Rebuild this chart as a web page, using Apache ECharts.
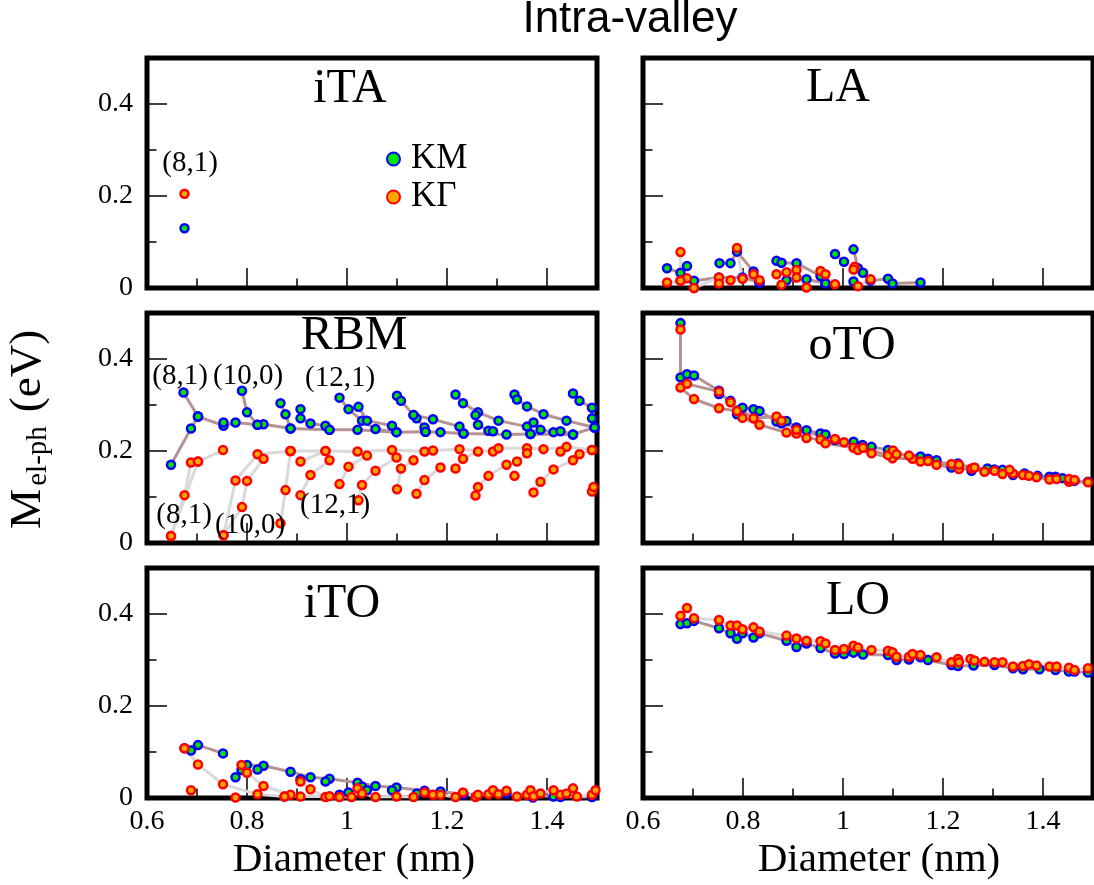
<!DOCTYPE html>
<html><head><meta charset="utf-8">
<script src="https://cdn.jsdelivr.net/npm/echarts@6/dist/echarts.min.js"></script>
<style>html,body{margin:0;padding:0;background:#fff}#c{width:1094px;height:885px}</style>
</head><body><div id="c"></div>
<script>
// ---------- data (diameter nm, M_el-ph eV); each inner list is one connected family ----------
const panelNames = ['iTA', 'LA', 'RBM', 'oTO', 'iTO', 'LO'];
const xRange = [0.6, 1.5];
const yRange = [0, 0.5];

const itaKM = [[[0.675, 0.130]]];
const itaKG = [[[0.675, 0.205]]];

const laKM = [
  [[0.648, 0.043], [0.675, 0.033], [0.688, 0.048]],
  [[0.702, 0.016], [0.752, 0.023], [0.799, 0.023], [0.833, 0.012]],
  [[0.753, 0.054], [0.775, 0.054], [0.788, 0.079], [0.821, 0.036], [0.833, 0.012]],
  [[0.867, 0.059], [0.877, 0.055], [0.907, 0.054], [0.955, 0.026], [0.965, 0.010]],
  [[0.887, 0.017], [0.927, 0.019], [0.965, 0.010]],
  [[0.984, 0.074], [1.002, 0.057]],
  [[1.021, 0.084], [1.030, 0.043], [1.040, 0.033], [1.055, 0.016], [1.090, 0.020], [1.099, 0.010], [1.155, 0.012]],
  [[1.021, 0.014]]
];
const laKG = [
  [[0.648, 0.012], [0.675, 0.016], [0.688, 0.021], [0.702, 0.000]],
  [[0.675, 0.078], [0.675, 0.016]],
  [[0.702, 0.000], [0.752, 0.023], [0.752, 0.010], [0.775, 0.017]],
  [[0.788, 0.087], [0.799, 0.020], [0.821, 0.030], [0.833, 0.017]],
  [[0.867, 0.030], [0.877, 0.007], [0.887, 0.034], [0.907, 0.039], [0.907, 0.023], [0.927, 0.001]],
  [[0.955, 0.037], [0.965, 0.030], [0.984, 0.008]],
  [[1.023, 0.046], [1.021, 0.040], [1.030, 0.004], [1.055, 0.019]]
];

const rbmKM = [
  [[0.648, 0.170], [0.688, 0.249], [0.702, 0.275]],
  [[0.673, 0.327], [0.702, 0.275]],
  [[0.702, 0.275], [0.753, 0.255], [0.777, 0.262], [0.821, 0.257], [0.833, 0.258], [0.887, 0.249], [0.965, 0.246], [1.021, 0.246], [1.099, 0.241], [1.157, 0.242], [1.187, 0.241], [1.233, 0.238], [1.319, 0.236], [1.367, 0.237], [1.452, 0.236], [1.495, 0.251]],
  [[0.753, 0.262]],
  [[0.790, 0.331], [0.800, 0.284], [0.821, 0.257]],
  [[0.867, 0.304], [0.877, 0.280], [0.887, 0.249]],
  [[0.907, 0.291], [0.907, 0.271], [0.927, 0.260], [0.957, 0.255], [0.965, 0.246]],
  [[0.985, 0.316], [1.003, 0.291], [1.030, 0.266], [1.057, 0.248], [1.099, 0.241]],
  [[1.023, 0.296], [1.040, 0.266], [1.090, 0.255]],
  [[1.100, 0.320], [1.108, 0.309], [1.133, 0.278], [1.139, 0.271], [1.155, 0.251], [1.157, 0.242]],
  [[1.133, 0.278], [1.172, 0.269], [1.225, 0.253], [1.233, 0.238]],
  [[1.217, 0.323], [1.232, 0.304], [1.262, 0.284], [1.303, 0.266], [1.360, 0.253], [1.367, 0.237]],
  [[1.257, 0.278], [1.262, 0.257], [1.283, 0.244], [1.292, 0.243]],
  [[1.335, 0.323], [1.340, 0.312], [1.360, 0.297], [1.393, 0.280], [1.439, 0.266], [1.495, 0.251]],
  [[1.373, 0.262], [1.387, 0.246], [1.413, 0.241], [1.427, 0.243], [1.452, 0.236]],
  [[1.452, 0.325], [1.465, 0.309], [1.490, 0.294]],
  [[1.490, 0.271]]
];
const rbmKG = [
  [[0.648, 0.015], [0.675, 0.104], [0.688, 0.175]],
  [[0.648, 0.015], [0.702, 0.177]],
  [[0.702, 0.177], [0.752, 0.202]],
  [[0.753, 0.017], [0.777, 0.136], [0.821, 0.193], [0.887, 0.200]],
  [[0.753, 0.017], [0.790, 0.078], [0.800, 0.135], [0.833, 0.183]],
  [[0.867, 0.043], [0.877, 0.115], [0.887, 0.200]],
  [[0.907, 0.104], [0.927, 0.148], [0.965, 0.180]],
  [[0.907, 0.177], [0.957, 0.200]],
  [[0.887, 0.200], [0.957, 0.200], [1.021, 0.199], [1.090, 0.202], [1.155, 0.199], [1.172, 0.201], [1.225, 0.204], [1.292, 0.199], [1.303, 0.206], [1.360, 0.206], [1.393, 0.204], [1.439, 0.209], [1.490, 0.202]],
  [[0.985, 0.128], [1.003, 0.166], [1.040, 0.190]],
  [[1.023, 0.093], [1.030, 0.126], [1.057, 0.157], [1.099, 0.186]],
  [[1.100, 0.117], [1.108, 0.162], [1.133, 0.180]],
  [[1.139, 0.107], [1.155, 0.137], [1.187, 0.164]],
  [[1.217, 0.162], [1.232, 0.183], [1.262, 0.199]],
  [[1.257, 0.103], [1.262, 0.122], [1.283, 0.146], [1.319, 0.170], [1.340, 0.177], [1.360, 0.195]],
  [[1.335, 0.146]],
  [[1.373, 0.110], [1.387, 0.133], [1.413, 0.160], [1.452, 0.180], [1.465, 0.193], [1.490, 0.202]],
  [[1.427, 0.199]],
  [[1.490, 0.112]],
  [[1.493, 0.122]]
];

const otoKM = [
  [[0.675, 0.478], [0.675, 0.360], [0.688, 0.367], [0.702, 0.364], [0.752, 0.331], [0.752, 0.324], [0.775, 0.309], [0.788, 0.280], [0.799, 0.294], [0.821, 0.291], [0.833, 0.287], [0.867, 0.264], [0.877, 0.260], [0.887, 0.265], [0.907, 0.251], [0.927, 0.245], [0.955, 0.238], [0.965, 0.236], [0.984, 0.224], [1.021, 0.220], [1.039, 0.213], [1.057, 0.209], [1.090, 0.202], [1.099, 0.195], [1.155, 0.188], [1.170, 0.183], [1.187, 0.180], [1.217, 0.164], [1.230, 0.173], [1.257, 0.157], [1.289, 0.162], [1.303, 0.160], [1.319, 0.159], [1.340, 0.148], [1.363, 0.151], [1.389, 0.146], [1.413, 0.144], [1.425, 0.144], [1.439, 0.141], [1.452, 0.137], [1.463, 0.135], [1.490, 0.133]]
];
const otoKG = [
  [[0.675, 0.464], [0.675, 0.338], [0.702, 0.313], [0.752, 0.293], [0.788, 0.287], [0.799, 0.272], [0.833, 0.257], [0.887, 0.240], [0.907, 0.238], [0.927, 0.228], [0.955, 0.225], [0.965, 0.217], [1.021, 0.207], [1.030, 0.202], [1.057, 0.195], [1.099, 0.184], [1.139, 0.183], [1.155, 0.177], [1.187, 0.170], [1.232, 0.161], [1.257, 0.162], [1.283, 0.155], [1.319, 0.150], [1.340, 0.151], [1.360, 0.148], [1.387, 0.143], [1.413, 0.138], [1.452, 0.133], [1.490, 0.132]],
  [[0.688, 0.346], [0.752, 0.329], [0.775, 0.306], [0.821, 0.271], [0.867, 0.275], [0.877, 0.266], [0.907, 0.246], [0.984, 0.226], [1.002, 0.219], [1.040, 0.207], [1.090, 0.191], [1.100, 0.201], [1.107, 0.193], [1.132, 0.190], [1.170, 0.178], [1.217, 0.172], [1.232, 0.170], [1.263, 0.164], [1.303, 0.157], [1.333, 0.159], [1.372, 0.146], [1.427, 0.139], [1.452, 0.139], [1.463, 0.137]]
];

const itoKM = [
  [[0.675, 0.108], [0.702, 0.115], [0.752, 0.097]],
  [[0.688, 0.103]],
  [[0.777, 0.045], [0.789, 0.061], [0.800, 0.072], [0.833, 0.070], [0.887, 0.057], [0.927, 0.045], [0.965, 0.042], [1.021, 0.033], [1.057, 0.026], [1.099, 0.023], [1.155, 0.016], [1.187, 0.014], [1.233, 0.008], [1.319, 0.010], [1.413, 0.003], [1.490, 0.002]],
  [[0.821, 0.062]], [[0.907, 0.041]], [[0.957, 0.036]], [[0.985, 0.007]], [[1.003, 0.012]],
  [[1.030, 0.025]], [[1.040, 0.017]], [[1.090, 0.017]], [[1.140, 0.010]], [[1.427, 0.002]], [[1.372, 0.001]]
];
const itoKG = [
  [[0.675, 0.108], [0.702, 0.073], [0.752, 0.030], [0.821, 0.008], [0.875, 0.003]],
  [[0.789, 0.072], [0.800, 0.055], [0.833, 0.026], [0.887, 0.007]],
  [[0.688, 0.017]],
  [[0.777, 0.001]],
  [[0.907, 0.036], [0.927, 0.019], [0.957, 0.002], [0.985, 0.002]],
  [[0.875, 0.003], [0.907, 0.003], [0.965, 0.004], [1.009, 0.002], [1.021, 0.021], [1.030, 0.010], [1.057, 0.002], [1.099, 0.003], [1.133, 0.002], [1.155, 0.012], [1.172, 0.007], [1.187, 0.007], [1.217, 0.002], [1.232, 0.012], [1.257, 0.002], [1.262, 0.007], [1.283, 0.008], [1.292, 0.017], [1.303, 0.008], [1.319, 0.016], [1.340, 0.003], [1.360, 0.007], [1.367, 0.017], [1.373, 0.004], [1.387, 0.010], [1.413, 0.017], [1.427, 0.007], [1.439, 0.010], [1.452, 0.021], [1.460, 0.003], [1.490, 0.007], [1.497, 0.017]]
];

const loKM = [
  [[0.675, 0.378], [0.688, 0.380], [0.702, 0.385], [0.752, 0.369], [0.775, 0.358], [0.788, 0.346], [0.799, 0.358], [0.821, 0.349], [0.833, 0.358], [0.887, 0.342], [0.907, 0.328], [0.927, 0.336], [0.955, 0.326], [0.984, 0.314], [1.002, 0.313], [1.021, 0.316], [1.040, 0.312], [1.090, 0.311], [1.107, 0.300], [1.132, 0.301], [1.155, 0.306], [1.170, 0.300], [1.217, 0.289], [1.230, 0.287], [1.261, 0.288], [1.303, 0.289], [1.340, 0.282], [1.360, 0.280], [1.393, 0.280], [1.425, 0.278], [1.452, 0.275], [1.463, 0.275], [1.490, 0.273]]
];
const loKG = [
  [[0.675, 0.396], [0.688, 0.413], [0.702, 0.391], [0.752, 0.387], [0.775, 0.375], [0.788, 0.375], [0.799, 0.367], [0.821, 0.371], [0.833, 0.362], [0.887, 0.353], [0.907, 0.347], [0.927, 0.342], [0.955, 0.341], [0.965, 0.336], [0.984, 0.322], [1.002, 0.324], [1.021, 0.331], [1.030, 0.327], [1.057, 0.322], [1.090, 0.320], [1.099, 0.317], [1.107, 0.307], [1.132, 0.307], [1.139, 0.313], [1.155, 0.311], [1.187, 0.306], [1.217, 0.295], [1.230, 0.302], [1.232, 0.295], [1.255, 0.302], [1.263, 0.299], [1.283, 0.296], [1.303, 0.295], [1.319, 0.295], [1.340, 0.286], [1.360, 0.287], [1.372, 0.291], [1.387, 0.288], [1.413, 0.286], [1.427, 0.286], [1.452, 0.283], [1.463, 0.278], [1.490, 0.282]]
];

// ---------- layout / style ----------
const SERIF = '"Liberation Serif","Times New Roman",serif';
const SANS = '"Liberation Sans",Arial,sans-serif';
const BROWN = '#b59393';
const GRAY = '#d9d9d9';
const panels = [
  {km: itaKM, kg: itaKG, kgColor: GRAY},
  {km: laKM, kg: laKG, kgColor: GRAY},
  {km: rbmKM, kg: rbmKG, kgColor: GRAY},
  {km: otoKM, kg: otoKG, kgColor: BROWN},
  {km: itoKM, kg: itoKG, kgColor: GRAY},
  {km: loKM, kg: loKG, kgColor: GRAY}
];
const colLeft = [147, 643];
const rowTop = [58, 313, 568];
const GW = 450, GH = 230;

const grids = [], xAxes = [], yAxes = [], series = [];
function flat(groups) { return groups.reduce((a, g) => a.concat(g), []); }

for (let k = 0; k < 2; k++) {
  for (let i = 0; i < 6; i++) {
    const left = colLeft[i % 2], top = rowTop[Math.floor(i / 2)];
    const main = k === 0;
    grids.push({
      left: left, top: top, width: GW, height: GH, outerBoundsMode: 'none', containLabel: false,
      show: main, borderColor: '#000', borderWidth: 5, backgroundColor: 'transparent'
    });
    xAxes.push({
      gridIndex: grids.length - 1, type: 'value', min: xRange[0], max: xRange[1],
      interval: main ? 0.2 : 0.1,
      axisLine: {show: false, onZero: false},
      splitLine: {show: false},
      axisTick: {show: true, inside: true, length: main ? 20 : 9.5, lineStyle: {color: '#000', width: 1.5}},
      axisLabel: {show: main && i >= 4, showMaxLabel: false, fontFamily: SERIF, fontSize: 28, color: '#000', margin: 10}
    });
    yAxes.push({
      gridIndex: grids.length - 1, type: 'value', min: yRange[0], max: yRange[1],
      interval: main ? 0.2 : 0.1,
      axisLine: {show: false, onZero: false},
      splitLine: {show: false},
      axisTick: {show: true, inside: true, length: main ? 20 : 9.5, lineStyle: {color: '#000', width: 1.5}},
      axisLabel: {show: main && i % 2 === 0, showMaxLabel: false, fontFamily: SERIF, fontSize: 28, color: '#000', margin: 14}
    });
  }
}

panels.forEach((p, i) => {
  p.km.forEach(g => {
    if (g.length > 1) series.push({type: 'line', xAxisIndex: i, yAxisIndex: i, data: g, symbol: 'none', silent: true,
      lineStyle: {color: BROWN, width: 3}, z: 2, clip: false, animation: false});
  });
  p.kg.forEach(g => {
    if (g.length > 1) series.push({type: 'line', xAxisIndex: i, yAxisIndex: i, data: g, symbol: 'none', silent: true,
      lineStyle: {color: p.kgColor, width: 3}, z: 2, clip: false, animation: false});
  });
  series.push({type: 'scatter', name: 'KM', xAxisIndex: i, yAxisIndex: i, data: flat(p.km), symbolSize: 8,
    itemStyle: {color: '#00e600', borderColor: '#0000ff', borderWidth: 2.5, opacity: 1}, z: 3, clip: false, animation: false});
  series.push({type: 'scatter', name: 'KΓ', xAxisIndex: i, yAxisIndex: i, data: flat(p.kg), symbolSize: 8,
    itemStyle: {color: '#ffa500', borderColor: '#ff0000', borderWidth: 2.5, opacity: 1}, z: 4, clip: false, animation: false});
});

// titles / annotations
const titlePos = [[350, 89], [838, 88], [354, 336], [852, 346], [342, 604], [858, 601]];
const graphics = [];
function txt(t, x, y, size, fam, rot) {
  graphics.push({type: 'text', x: x, y: y, rotation: rot || 0, silent: true, z: 10,
    style: {text: t, fill: '#000', font: size + 'px ' + fam, textAlign: 'center', textVerticalAlign: 'middle', align: 'center', verticalAlign: 'middle'}});
}
txt('Intra-valley', 630, 20, 44, SANS);
panelNames.forEach((n, i) => txt(n, titlePos[i][0], titlePos[i][1], 48, SERIF));
const annotations = [
  ['(8,1)', 190, 163], ['(8,1)', 180, 376], ['(10,0)', 248, 376], ['(12,1)', 340, 378],
  ['(8,1)', 184, 515], ['(10,0)', 250, 525], ['(12,1)', 335, 505]
];
annotations.forEach(a => txt(a[0], a[1], a[2], 29, SERIF));
txt('Diameter (nm)', 354, 860, 41, SERIF);
txt('Diameter (nm)', 879, 860, 41, SERIF);
txt('M', 28, 509, 45, SERIF, Math.PI / 2);
txt('el-ph', 38, 456, 29, SERIF, Math.PI / 2);
txt('(eV)', 28, 371, 45, SERIF, Math.PI / 2);

const chart = echarts.init(document.getElementById('c'), null, {renderer: 'canvas'});
chart.setOption({
  animation: false,
  backgroundColor: '#fff',
  grid: grids,
  xAxis: xAxes,
  yAxis: yAxes,
  legend: {
    data: ['KM', 'KΓ'], orient: 'vertical', left: 381, top: 136, itemWidth: 13, itemHeight: 13, itemGap: 2,
    icon: 'circle', selectedMode: false,
    textStyle: {fontFamily: SERIF, fontSize: 35, color: '#000', lineHeight: 36, padding: [0, 0, 0, 6]}
  },
  graphic: graphics,
  series: series
});
</script></body></html>
